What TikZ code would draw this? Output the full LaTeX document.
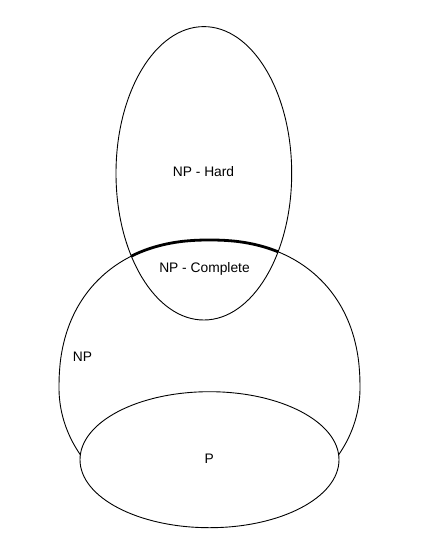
\documentclass[tikz,border=0pt]{standalone}
\usepackage{fontspec}
\setmainfont{Liberation Sans}
\begin{document}
\begin{tikzpicture}[x=1pt,y=-1pt,
  outline/.style={line width=0.9pt, draw=black},
  boundary/.style={line width=2.8pt, draw=black},
  lbl/.style={font=\fontsize{13.8}{16}\selectfont, inner sep=0pt}]
\useasboundingbox (0,0) rectangle (427,558);
\def\ex{0.8889}
% NP region (lower part elliptic, upper part slightly squarer)
\draw[outline]
  plot[domain=148.5:180, samples=25, variable=\t] ({209.5+150.5*cos(\t)}, {388+130*sin(\t)})
  -- plot[domain=180.3:269.7, samples=60, variable=\t] ({209.5-150.5*(abs(cos(\t)))^\ex}, {388-148*(abs(sin(\t)))^\ex})
  -- plot[domain=270.3:359.7, samples=60, variable=\t] ({209.5+150.5*(abs(cos(\t)))^\ex}, {388-148*(abs(sin(\t)))^\ex})
  -- plot[domain=0:31.5, samples=25, variable=\t] ({209.5+150.5*cos(\t)}, {388+130*sin(\t)});
% thick NP-Complete boundary
\begin{scope}
\clip (203.85,173.3) ellipse [x radius=87.85, y radius=146.7];
\draw[boundary]
  plot[domain=180.3:269.7, samples=60, variable=\t] ({209.5-150.5*(abs(cos(\t)))^\ex}, {388-148*(abs(sin(\t)))^\ex})
  -- plot[domain=270.3:359.7, samples=60, variable=\t] ({209.5+150.5*(abs(cos(\t)))^\ex}, {388-148*(abs(sin(\t)))^\ex});
\end{scope}
% NP-Hard
\draw[outline] (203.85,173.3) ellipse [x radius=87.85, y radius=146.7];
% P
\filldraw[outline, fill=white] (209.5,459.7) ellipse [x radius=129.5, y radius=68];
% labels
\node[lbl] (nphard) at (203.5,172) {NP - Hard};
\node[lbl] (npc) at (204.5,269) {NP - Complete};
\node[lbl] (np) at (82.5,357) {NP};
\node[lbl] (p) at (209.3,458.3) {P};
\end{tikzpicture}
\end{document}
